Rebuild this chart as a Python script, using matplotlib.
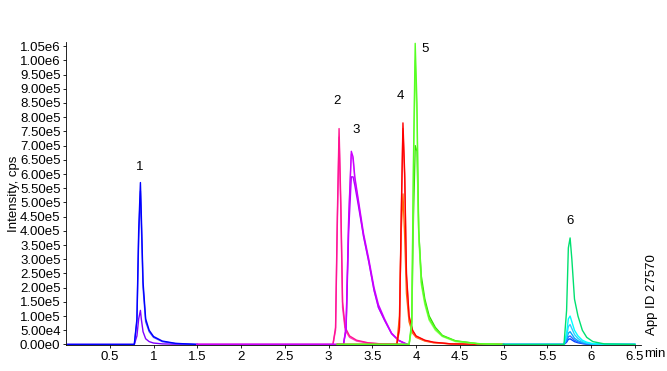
import matplotlib
matplotlib.use("Agg")
import matplotlib.pyplot as plt
from matplotlib.ticker import FuncFormatter

plt.rcParams["font.family"] = ["Liberation Sans", "DejaVu Sans"]

# XIC traces: (colour, times [min], intensities [cps])
# peak 1 window
t1 = [0.02, 0.78, 0.81, 0.83, 0.85, 0.86, 0.88, 0.91, 0.95, 1.00, 1.10, 1.25, 1.50]
blue_a = [0, 0, 9.0e4, 4.0e5, 5.7e5, 4.6e5, 2.2e5, 9.0e4, 5.0e4, 2.8e4, 1.2e4, 4.0e3, 0]
blue_b = [0, 0, 8.0e4, 3.7e5, 5.4e5, 4.3e5, 2.0e5, 8.0e4, 4.5e4, 2.5e4, 1.0e4, 3.0e3, 0]
purple_1 = [0, 0, 3.0e4, 9.0e4, 1.2e5, 9.0e4, 4.5e4, 2.0e4, 1.0e4, 5.0e3, 2.0e3, 1.0e3, 0]

# peaks 2 and 3 window
t2 = [1.50, 3.05, 3.08, 3.10, 3.12, 3.14, 3.16, 3.19, 3.24, 3.32, 3.45, 3.60, 3.90]
pink_a = [0, 0, 6.0e4, 4.5e5, 7.6e5, 5.0e5, 1.5e5, 6.0e4, 3.0e4, 1.5e4, 6.0e3, 2.0e3, 0]
pink_b = [0, 0, 5.0e4, 4.2e5, 7.3e5, 4.7e5, 1.3e5, 5.0e4, 2.5e4, 1.2e4, 5.0e3, 2.0e3, 0]

t3 = [1.50, 3.17, 3.20, 3.23, 3.26, 3.28, 3.30, 3.34, 3.40, 3.46, 3.52, 3.57, 3.64, 3.72, 3.80, 3.90]
violet_a = [0, 0, 6.0e4, 4.5e5, 6.8e5, 6.6e5, 5.9e5, 5.1e5, 3.9e5, 3.0e5, 2.0e5, 1.4e5, 9.0e4, 4.0e4, 1.5e4, 0]
violet_b = [0, 0, 5.0e4, 4.0e5, 5.9e5, 5.9e5, 5.6e5, 4.9e5, 3.8e5, 2.9e5, 1.9e5, 1.3e5, 8.5e4, 3.8e4, 1.4e4, 0]
violet_c = [0, 0, 6.0e4, 4.4e5, 6.7e5, 6.5e5, 5.8e5, 5.0e5, 3.8e5, 2.9e5, 1.9e5, 1.3e5, 8.5e4, 3.8e4, 1.4e4, 0]

# peaks 4 and 5 window
t4 = [3.10, 3.78, 3.81, 3.83, 3.85, 3.87, 3.89, 3.92, 3.96, 4.00, 4.10, 4.20, 4.40, 5.00]
red_a = [0, 0, 6.0e4, 4.5e5, 7.8e5, 6.0e5, 2.5e5, 1.0e5, 5.0e4, 3.0e4, 1.5e4, 8.0e3, 2.0e3, 0]
red_b = [0, 0, 5.0e4, 4.3e5, 7.6e5, 5.8e5, 2.4e5, 9.5e4, 4.8e4, 2.8e4, 1.4e4, 7.0e3, 2.0e3, 0]
orange = [0, 0, 1.0e5, 4.0e5, 5.3e5, 3.8e5, 1.8e5, 8.0e4, 4.0e4, 2.5e4, 1.2e4, 6.0e3, 2.0e3, 0]

t5 = [3.10, 3.92, 3.95, 3.97, 3.99, 4.01, 4.03, 4.06, 4.10, 4.15, 4.22, 4.30, 4.45, 4.70, 5.00]
green_a = [0, 0, 8.0e4, 6.5e5, 1.06e6, 8.5e5, 4.0e5, 2.2e5, 1.5e5, 9.0e4, 5.5e4, 3.0e4, 1.2e4, 3.0e3, 0]
green_b = [0, 0, 6.0e4, 4.5e5, 7.0e5, 6.8e5, 4.0e5, 2.4e5, 1.6e5, 1.0e5, 6.0e4, 3.2e4, 1.3e4, 3.0e3, 0]
green_c = [0, 0, 7.0e4, 6.0e5, 1.0e6, 8.0e5, 3.8e5, 2.1e5, 1.4e5, 8.5e4, 5.0e4, 2.8e4, 1.0e4, 3.0e3, 0]

# peak 6 window
t6 = [5.00, 5.69, 5.72, 5.74, 5.76, 5.78, 5.81, 5.85, 5.90, 5.95, 6.02, 6.15, 6.50]
teal = [0, 0, 1.2e5, 3.4e5, 3.75e5, 3.0e5, 1.6e5, 1.0e5, 5.0e4, 2.5e4, 1.0e4, 2.0e3, 0]
cyan = [0, 0, 4.0e4, 9.0e4, 1.0e5, 8.0e4, 5.0e4, 3.0e4, 1.5e4, 8.0e3, 3.0e3, 1.0e3, 0]
sky = [0, 0, 2.8e4, 6.3e4, 7.0e4, 5.6e4, 3.5e4, 2.1e4, 1.0e4, 5.0e3, 2.0e3, 1.0e3, 0]
azure = [0, 0, 1.8e4, 4.0e4, 4.5e4, 3.6e4, 2.2e4, 1.3e4, 7.0e3, 3.0e3, 1.0e3, 0, 0]
royal = [0, 0, 1.2e4, 2.7e4, 3.0e4, 2.4e4, 1.5e4, 9.0e3, 4.0e3, 2.0e3, 1.0e3, 0, 0]
navy = [0, 0, 8.0e3, 1.8e4, 2.0e4, 1.6e4, 1.0e4, 6.0e3, 3.0e3, 1.0e3, 0, 0, 0]

traces = [
    ("#8000ff", t1, purple_1),
    ("#4a4aff", t1, blue_b),
    ("#0000ff", t1, blue_a),
    ("#ff40c0", t2, pink_b),
    ("#ff1493", t2, pink_a),
    ("#e060ff", t3, violet_c),
    ("#b000ff", t3, violet_b),
    ("#cc00ff", t3, violet_a),
    ("#ff6600", t4, orange),
    ("#ff6060", t4, red_b),
    ("#ff0000", t4, red_a),
    ("#33dd00", t5, green_b),
    ("#99ff66", t5, green_c),
    ("#55ff22", t5, green_a),
    ("#0044ff", t6, navy),
    ("#3366ff", t6, royal),
    ("#00aaff", t6, azure),
    ("#33ccff", t6, sky),
    ("#00ffff", t6, cyan),
    ("#00e070", t6, teal),
]

peak_labels = ["1", "2", "3", "4", "5", "6"]
label_x = [0.84, 3.10, 3.31, 3.82, 4.10, 5.76]
label_y = [6.05e5, 8.35e5, 7.35e5, 8.55e5, 1.02e6, 4.15e5]

x_ticks = [0.5, 1, 1.5, 2, 2.5, 3, 3.5, 4, 4.5, 5, 5.5, 6, 6.5]
x_tick_labels = ["0.5", "1", "1.5", "2", "2.5", "3", "3.5", "4", "4.5", "5", "5.5", "6", "6.5"]
y_ticks = [i * 5.0e4 for i in range(22)]


def sci_label(v, pos=None):
    if v == 0:
        return "0.00e0"
    s = f"{v:.2e}"
    mant, exp = s.split("e")
    return f"{mant}e{int(exp)}"


fig = plt.figure(figsize=(6.67, 3.71), dpi=100)
ax = fig.add_axes([0.099, 0.070, 0.862, 0.817])

for color, t, y in traces:
    ax.plot(t, y, color=color, lw=1.0)

for lab, x, y in zip(peak_labels, label_x, label_y):
    ax.text(x, y, lab, ha="center", va="bottom", fontsize=9.5)

ax.set_xlim(0, 6.57)
ax.set_ylim(-2.0e3, 1.065e6)
ax.set_xticks(x_ticks)
ax.set_xticklabels(x_tick_labels)
ax.set_yticks(y_ticks)
ax.yaxis.set_major_formatter(FuncFormatter(sci_label))
ax.tick_params(axis="both", labelsize=9.5, length=2, width=0.6, pad=2)

for side in ("top", "right"):
    ax.spines[side].set_visible(False)
for side in ("left", "bottom"):
    ax.spines[side].set_linewidth(0.6)

ax.set_ylabel("Intensity, cps", fontsize=9.5, labelpad=0)
fig.text(0.982, 0.045, "min", ha="center", va="center", fontsize=9.5)
fig.text(0.977, 0.097, "App ID 27570", rotation=90, ha="center", va="bottom", fontsize=9.5)

fig.savefig("out.png", dpi=100)
